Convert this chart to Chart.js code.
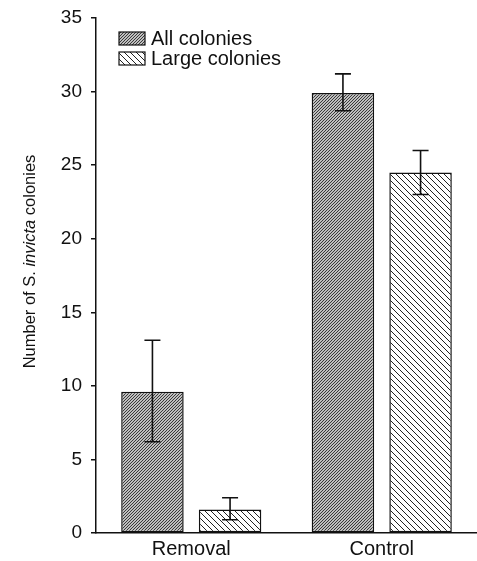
<!DOCTYPE html>
<html><head><meta charset="utf-8">
<script src="https://cdn.jsdelivr.net/npm/chart.js@4.4.0/dist/chart.umd.min.js"></script>
<style>html,body{margin:0;padding:0;background:#fff;}#wrap{width:477px;height:561px;}</style>
</head><body><div id="wrap"><canvas id="c" width="477" height="561"></canvas></div>
<script>
const categories = ['Removal', 'Control'];
const seriesNames = ['All colonies', 'Large colonies'];
const allValues = [9.6, 29.9];
const allLow = [6.2, 28.7];
const allHigh = [13.1, 31.2];
const largeValues = [1.6, 24.5];
const largeLow = [0.9, 23.0];
const largeHigh = [2.4, 26.0];
const yTicks = [0, 5, 10, 15, 20, 25, 30, 35];

const FONT = '"Liberation Sans", Arial, Helvetica, sans-serif';

function hatch(size, dir, color, lw) {
  const c = document.createElement('canvas');
  c.width = size; c.height = size;
  const g = c.getContext('2d');
  g.fillStyle = '#fff'; g.fillRect(0, 0, size, size);
  g.strokeStyle = color; g.lineWidth = lw;
  g.beginPath();
  if (dir === '/') {
    g.moveTo(-1, size + 1); g.lineTo(size + 1, -1);
    g.moveTo(-1, 1); g.lineTo(1, -1);
    g.moveTo(size - 1, size + 1); g.lineTo(size + 1, size - 1);
  } else {
    g.moveTo(-1, -1); g.lineTo(size + 1, size + 1);
    g.moveTo(size - 1, -1); g.lineTo(size + 1, 1);
    g.moveTo(-1, size - 1); g.lineTo(1, size + 1);
  }
  g.stroke();
  return document.getElementById('c').getContext('2d').createPattern(c, 'repeat');
}
const patAll = hatch(3, '/', '#333', 1.2);
const patLarge = hatch(6, '\\', '#222', 1);

const errorBars = {
  id: 'errorBars',
  afterDatasetsDraw(chart) {
    const ctx = chart.ctx;
    const y = chart.scales.y;
    const sets = [[allLow, allHigh], [largeLow, largeHigh]];
    ctx.save();
    ctx.strokeStyle = '#111'; ctx.lineWidth = 1.6;
    sets.forEach((s, di) => {
      const meta = chart.getDatasetMeta(di);
      meta.data.forEach((bar, i) => {
        const x = bar.x;
        const yl = y.getPixelForValue(s[0][i]);
        const yh = y.getPixelForValue(s[1][i]);
        ctx.beginPath();
        ctx.moveTo(x, yl); ctx.lineTo(x, yh);
        ctx.moveTo(x - 8, yl); ctx.lineTo(x + 8, yl);
        ctx.moveTo(x - 8, yh); ctx.lineTo(x + 8, yh);
        ctx.stroke();
      });
    });
    ctx.restore();
  }
};

const customText = {
  id: 'customText',
  afterDraw(chart) {
    const ctx = chart.ctx;
    const area = chart.chartArea;
    ctx.save();
    const pats = [patAll, patLarge];
    seriesNames.forEach((name, i) => {
      const bx = 119, by = 32 + i * 20;
      ctx.fillStyle = pats[i];
      ctx.fillRect(bx, by, 26, 13);
      ctx.strokeStyle = '#111'; ctx.lineWidth = 1.2;
      ctx.strokeRect(bx, by, 26, 13);
      ctx.fillStyle = '#111';
      ctx.font = '20px ' + FONT;
      ctx.textBaseline = 'middle';
      ctx.textAlign = 'left';
      ctx.fillText(name, 151, by + 7);
    });
    const parts = [['Number of ', 'normal'], ['S. ', 'normal'], ['invicta', 'italic'], [' colonies', 'normal']];
    const fs = 16.5;
    let total = 0;
    parts.forEach(p => { ctx.font = p[1] + ' ' + fs + 'px ' + FONT; total += ctx.measureText(p[0]).width; });
    ctx.translate(30, (area.top + area.bottom) / 2 - 14);
    ctx.rotate(-Math.PI / 2);
    ctx.textBaseline = 'middle';
    ctx.textAlign = 'left';
    ctx.fillStyle = '#111';
    let x = -total / 2;
    parts.forEach(p => {
      ctx.font = p[1] + ' ' + fs + 'px ' + FONT;
      ctx.fillText(p[0], x, 0);
      x += ctx.measureText(p[0]).width;
    });
    ctx.restore();
  }
};

new Chart(document.getElementById('c'), {
  type: 'bar',
  data: {
    labels: categories,
    datasets: [
      { label: seriesNames[0], data: allValues, backgroundColor: patAll, borderColor: '#111', borderWidth: 1.5, borderSkipped: false },
      { label: seriesNames[1], data: largeValues, backgroundColor: patLarge, borderColor: '#111', borderWidth: 1.5, borderSkipped: false }
    ]
  },
  options: {
    responsive: false,
    animation: false,
    devicePixelRatio: 1,
    layout: { padding: { top: 18, right: 0, left: 0, bottom: 0 } },
    datasets: { bar: { categoryPercentage: 0.815, barPercentage: 0.805 } },
    plugins: { legend: { display: false }, tooltip: { enabled: false } },
    scales: {
      x: {
        grid: { display: false, drawTicks: false, tickLength: 0 },
        border: { display: true, color: '#111', width: 1.5 },
        ticks: { color: '#111', font: { family: FONT, size: 20 }, padding: 4 },
        afterFit(s) { s.height = 561 - 533; s.paddingLeft = 0; s.paddingRight = 0; }
      },
      y: {
        min: 0, max: 35,
        afterBuildTicks(s) { s.ticks = yTicks.map(v => ({ value: v })); },
        grid: { display: true, drawOnChartArea: false, drawTicks: true, tickLength: 5, color: '#111', lineWidth: 1.5 },
        border: { display: true, color: '#111', width: 1.5 },
        ticks: { color: '#111', font: { family: FONT, size: 19 }, padding: 9 },
        afterFit(s) { s.width = 96; s.paddingTop = 0; s.paddingBottom = 0; }
      }
    }
  },
  plugins: [errorBars, customText]
});
</script></body></html>
